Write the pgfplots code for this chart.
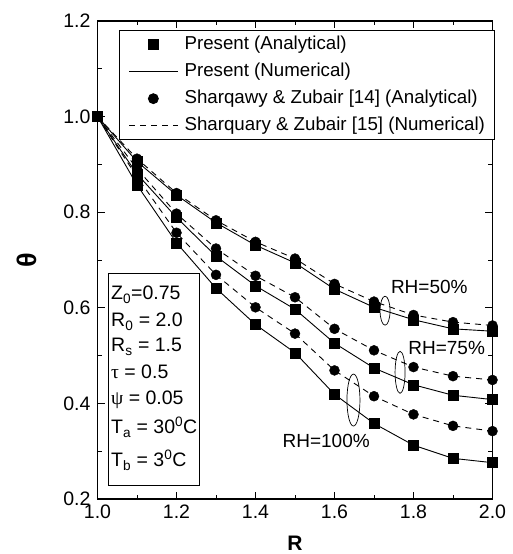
\documentclass[border=0pt]{standalone}
\usepackage{pgfplots}
\pgfplotsset{compat=1.18}
\usepackage{pgfplotstable}
\usepackage{fontspec}
\setmainfont{Liberation Sans}
\newfontfamily\serifgreek{Liberation Serif}

\pgfplotsset{
  marklegend/.style={legend image code/.code={\path (0pt,-1pt) (54.4pt,1pt); \draw[mark repeat=2,mark phase=2,##1] plot coordinates {(3pt,0pt)(27.2pt,0pt)(51.4pt,0pt)};}},
  linelegend/.style={legend image code/.code={\path (0pt,-1pt) (54.4pt,1pt); \draw[##1] (3pt,0pt) -- (51.4pt,0pt);}},
}

\pgfplotstableread{
x   s50   c50   s75   c75   s100   c100
1.0 1.000 1.000 1.000 1.000 1.000  1.000
1.1 0.906 0.912 0.880 0.891 0.857  0.874
1.2 0.836 0.840 0.789 0.797 0.736  0.757
1.3 0.778 0.783 0.708 0.724 0.641  0.669
1.4 0.731 0.738 0.646 0.667 0.565  0.601
1.5 0.694 0.703 0.597 0.622 0.506  0.546
1.6 0.639 0.650 0.526 0.556 0.419  0.469
1.7 0.601 0.613 0.474 0.511 0.358  0.415
1.8 0.575 0.585 0.439 0.476 0.3125 0.377
1.9 0.556 0.570 0.417 0.457 0.285  0.353
2.0 0.551 0.563 0.408 0.449 0.276  0.342
}\data

\begin{document}
\begin{tikzpicture}
\begin{axis}[
  scale only axis, width=395pt, height=478pt,
  xmin=1.0, xmax=2.0, ymin=0.2, ymax=1.2,
  xtick={1.0,1.2,1.4,1.6,1.8,2.0}, minor xtick={1.1,1.3,1.5,1.7,1.9},
  ytick={0.2,0.4,0.6,0.8,1.0,1.2}, minor ytick={0.3,0.5,0.7,0.9,1.1},
  tick align=inside, xtick pos=both, ytick pos=both,
  major tick length=7.5pt, minor tick length=4.5pt,
  every tick/.style={black, line width=0.8pt},
  axis line style={line width=1.3pt},
  /pgf/number format/assume math mode=true,
  /pgf/number format/fixed, /pgf/number format/fixed zerofill, /pgf/number format/precision=1,
  ticklabel style={font=\fontsize{19.5}{22}\selectfont},
  xticklabel style={yshift=-2.5pt},
  yticklabel style={xshift=-3.5pt},
  xlabel={R}, ylabel={θ},
  xlabel style={at={(axis description cs:0.5,-0.092)}, anchor=center, font=\fontsize{21}{24}\selectfont\bfseries},
  ylabel style={at={(axis description cs:-0.18,0.5)}, anchor=center, font=\fontsize{27}{30}\selectfont\bfseries},
  legend style={at={(rel axis cs:0.0552,0.9806)}, anchor=north west,
    draw=black, line width=0.8pt, inner xsep=6pt, inner ysep=0.5pt,
    font=\fontsize{18.7}{22}\selectfont, column sep=0pt,
    nodes={inner xsep=3.6pt, inner ysep=4.25pt, text height=14pt, text depth=4.5pt}},
  legend cell align=left,
]
% RH = 50 %
\addplot[black, line width=0.9pt, forget plot] table[x=x,y=s50]{\data};
\addplot[black, line width=0.9pt, dash pattern=on 6pt off 5pt, forget plot] table[x=x,y=c50]{\data};
\addplot[only marks, mark=*, mark size=5pt, black, forget plot] table[x=x,y=c50]{\data};
\addplot[only marks, mark=square*, mark size=5pt, black, forget plot] table[x=x,y=s50]{\data};
% RH = 75 %
\addplot[black, line width=0.9pt, forget plot] table[x=x,y=s75]{\data};
\addplot[black, line width=0.9pt, dash pattern=on 6pt off 5pt, forget plot] table[x=x,y=c75]{\data};
\addplot[only marks, mark=*, mark size=5pt, black, forget plot] table[x=x,y=c75]{\data};
\addplot[only marks, mark=square*, mark size=5pt, black, forget plot] table[x=x,y=s75]{\data};
% RH = 100 %
\addplot[black, line width=0.9pt, forget plot] table[x=x,y=s100]{\data};
\addplot[black, line width=0.9pt, dash pattern=on 6pt off 5pt, forget plot] table[x=x,y=c100]{\data};
\addplot[only marks, mark=*, mark size=5pt, black, forget plot] table[x=x,y=c100]{\data};
\addplot[only marks, mark=square*, mark size=5pt, black, forget plot] table[x=x,y=s100]{\data};

\addlegendimage{only marks, mark=square*, mark size=5pt, black, marklegend}
\addlegendentry{Present (Analytical)}
\addlegendimage{black, line width=0.9pt, linelegend}
\addlegendentry{Present (Numerical)}
\addlegendimage{only marks, mark=*, mark size=5pt, black, marklegend}
\addlegendentry{Sharqawy \& Zubair [14] (Analytical)}
\addlegendimage{black, line width=0.9pt, dash pattern=on 6pt off 5pt, linelegend}
\addlegendentry{Sharquary \& Zubair [15] (Numerical)}

% annotations
\draw[line width=0.7pt] (axis cs:1.728,0.594) ellipse [x radius=5pt, y radius=14.5pt];
\draw[line width=0.7pt] (axis cs:1.766,0.465) ellipse [x radius=5pt, y radius=21pt];
\draw[line width=0.7pt] (axis cs:1.648,0.407) ellipse [x radius=6.5pt, y radius=26pt];
\node[font=\fontsize{19}{22}\selectfont, inner sep=0pt] at (axis cs:1.840,0.643) {RH=50\%};
\node[font=\fontsize{19}{22}\selectfont, inner sep=0pt] at (axis cs:1.884,0.516) {RH=75\%};
\node[font=\fontsize{19}{22}\selectfont, inner sep=0pt] at (axis cs:1.579,0.321) {RH=100\%};
\end{axis}

% parameter box (axis south west is at the origin, units in pt)
\draw[line width=0.8pt] (10.8pt,14pt) rectangle (101.8pt,225.7pt);
\begin{scope}[every node/.style={anchor=base west, inner sep=0pt, font=\fontsize{19.5}{22}\selectfont}]
\node at (13.5pt,199pt) {Z\textsubscript{0}=0.75};
\node at (13.5pt,172pt) {R\textsubscript{0} = 2.0};
\node at (13.5pt,147pt) {R\textsubscript{s} = 1.5};
\node at (13.5pt,120pt) {{\serifgreek τ} = 0.5};
\node at (13.5pt,94pt) {{\serifgreek ψ} = 0.05};
\node at (13.5pt,65pt) {T\textsubscript{a} = 30\textsuperscript{0}C};
\node at (13.5pt,32pt) {T\textsubscript{b} = 3\textsuperscript{0}C};
\end{scope}

\pgfresetboundingbox
\path (-97.5pt,-55pt) rectangle (414.5pt,499pt);
\end{tikzpicture}
\end{document}
